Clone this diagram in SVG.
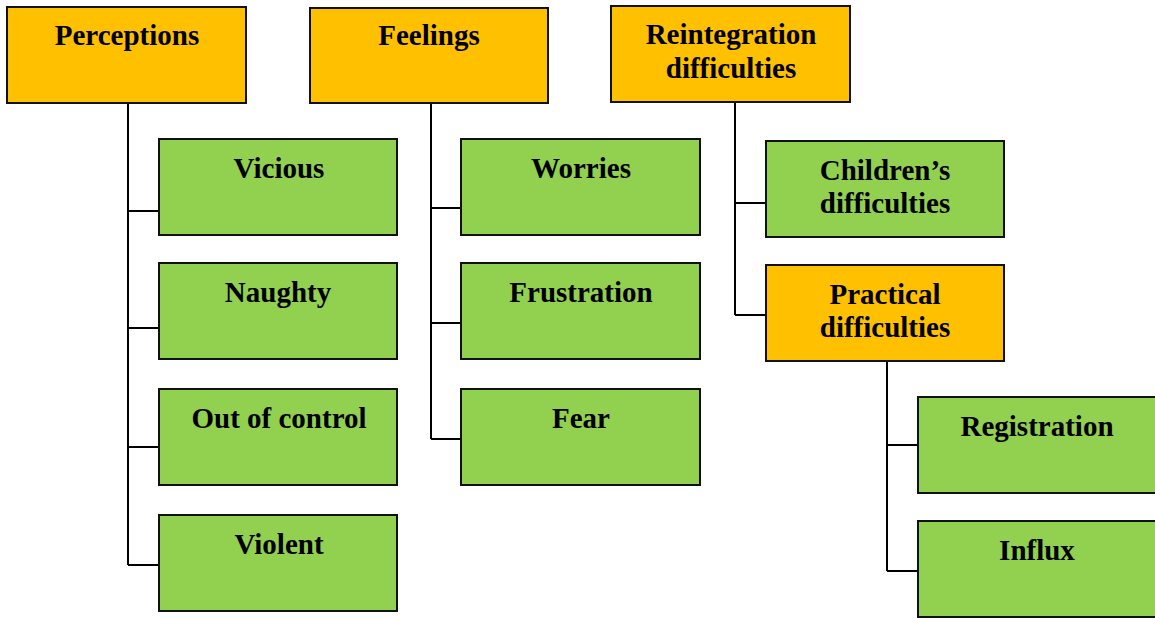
<svg xmlns="http://www.w3.org/2000/svg" width="1155" height="618" viewBox="0 0 1155 618">
<style>
.o{fill:#FFC000;stroke:#111;stroke-width:2}
.g{fill:#92D050;stroke:#111;stroke-width:2}
text{font-family:"Liberation Serif","Times New Roman",serif;font-weight:bold;font-size:29px;fill:#000;text-anchor:middle}
.c{fill:none;stroke:#000;stroke-width:2}
</style>
<rect width="1155" height="618" fill="#fff"/>
<g id="connectors">
<path class="c" d="M128 103V565M128 211H159M128 328H159M128 447H159M128 565H159"/>
<path class="c" d="M431 103V439M431 208H461M431 323H461M431 439H461"/>
<path class="c" d="M735 102V315M735 203H766M735 315H766"/>
<path class="c" d="M887 361V571M887 445H918M887 571H918"/>
</g>
<g id="perceptions"><rect class="o" x="7" y="7" width="239" height="96"/><text x="127" y="45">Perceptions</text></g>
<g id="feelings"><rect class="o" x="310" y="8" width="238" height="95"/><text x="429" y="45">Feelings</text></g>
<g id="reintegration"><rect class="o" x="611" y="6" width="239" height="96"/><text x="731" y="44">Reintegration</text><text x="731" y="78">difficulties</text></g>
<g id="vicious"><rect class="g" x="159" y="139" width="238" height="96"/><text x="279" y="178">Vicious</text></g>
<g id="naughty"><rect class="g" x="159" y="263" width="238" height="96"/><text x="278" y="302">Naughty</text></g>
<g id="outofcontrol"><rect class="g" x="159" y="389" width="238" height="96"/><text x="279" y="428">Out of control</text></g>
<g id="violent"><rect class="g" x="159" y="515" width="238" height="96"/><text x="279" y="554">Violent</text></g>
<g id="worries"><rect class="g" x="461" y="139" width="239" height="96"/><text x="581" y="178">Worries</text></g>
<g id="frustration"><rect class="g" x="461" y="263" width="239" height="96"/><text x="581" y="302">Frustration</text></g>
<g id="fear"><rect class="g" x="461" y="389" width="239" height="96"/><text x="581" y="428">Fear</text></g>
<g id="childrens"><rect class="g" x="766" y="141" width="238" height="96"/><text x="885" y="180">Children’s</text><text x="885" y="213">difficulties</text></g>
<g id="practical"><rect class="o" x="766" y="265" width="238" height="96"/><text x="885" y="304">Practical</text><text x="885" y="337">difficulties</text></g>
<g id="registration"><rect class="g" x="918" y="397" width="240" height="96"/><text x="1037" y="436">Registration</text></g>
<g id="influx"><rect class="g" x="918" y="521" width="240" height="96"/><text x="1037" y="560">Influx</text></g>
</svg>
